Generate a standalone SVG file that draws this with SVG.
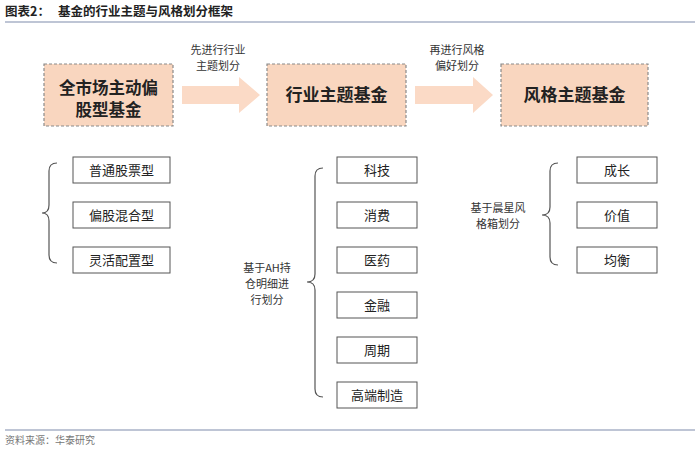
<svg xmlns="http://www.w3.org/2000/svg" width="700" height="450" viewBox="0 0 700 450">
<style>
text{font-family:"Noto Sans CJK SC","Noto Sans",sans-serif;fill:#222;}
.big{fill:#f9d6bf;stroke:#8a8a8a;stroke-width:1.2;stroke-dasharray:3,2;}
.bt{font-size:17px;font-weight:bold;text-anchor:middle;}
.sb{fill:#fff;stroke:#555;stroke-width:1;}
.st{font-size:13px;text-anchor:middle;}
.lbl{font-size:11px;text-anchor:middle;fill:#333;}
.arrow{fill:#fbdac6;}
.brace{fill:none;stroke:#555;stroke-width:1.2;}
</style>
<text x="5" y="16" style="font-size:12.5px;font-weight:bold">图表2：</text>
<text x="58" y="16" style="font-size:12.5px;font-weight:bold">基金的行业主题与风格划分框架</text>
<line x1="5" y1="22" x2="695" y2="22" stroke="#7f8cab" stroke-width="1.2"/>

<g id="n-all">
<rect class="big" x="44" y="64" width="129" height="62"/>
<text class="bt" x="108.5" y="94" style="font-size:16.5px">全市场主动偏</text>
<text class="bt" x="108.5" y="116" style="font-size:16.5px">股型基金</text>
</g>
<g id="n-industry">
<rect class="big" x="267" y="64" width="139" height="62"/>
<text class="bt" x="336.5" y="101">行业主题基金</text>
</g>
<g id="n-style">
<rect class="big" x="501" y="64" width="147" height="62"/>
<text class="bt" x="574.5" y="101">风格主题基金</text>
</g>

<g id="connectors">
<polygon class="arrow" points="182,86 239,86 239,77 260,95 239,113 239,104 182,104"/>
<polygon class="arrow" points="415,86 473,86 473,77 493,95 473,113 473,104 415,104"/>
<text class="lbl" x="218" y="54">先进行行业</text>
<text class="lbl" x="218" y="70">主题划分</text>
<text class="lbl" x="457" y="54">再进行风格</text>
<text class="lbl" x="457" y="70">偏好划分</text>
<path class="brace" d="M57,163 Q49,163 49,171 L49,205 Q49,213 42,213 Q49,213 49,221 L49,255 Q49,263 57,263"/>
<path class="brace" d="M323,168 Q315,168 315,176 L315,274 Q315,282 307,282 Q315,282 315,290 L315,389 Q315,397 323,397"/>
<path class="brace" d="M558,163 Q550,163 550,171 L550,207 Q550,215 542,215 Q550,215 550,223 L550,257 Q550,265 558,265"/>
<text class="lbl" x="267" y="272">基于AH持</text>
<text class="lbl" x="267" y="288">仓明细进</text>
<text class="lbl" x="267" y="304">行划分</text>
<text class="lbl" x="498" y="212">基于晨星风</text>
<text class="lbl" x="498" y="228">格箱划分</text>
</g>

<g id="n-l1"><rect class="sb" x="73" y="157" width="97" height="26"/><text class="st" x="121.5" y="175">普通股票型</text></g>
<g id="n-l2"><rect class="sb" x="73" y="202" width="97" height="26"/><text class="st" x="121.5" y="220">偏股混合型</text></g>
<g id="n-l3"><rect class="sb" x="73" y="247" width="97" height="26"/><text class="st" x="121.5" y="265">灵活配置型</text></g>

<g id="n-m1"><rect class="sb" x="337" y="157" width="80" height="26"/><text class="st" x="377" y="175">科技</text></g>
<g id="n-m2"><rect class="sb" x="337" y="202" width="80" height="26"/><text class="st" x="377" y="220">消费</text></g>
<g id="n-m3"><rect class="sb" x="337" y="247" width="80" height="26"/><text class="st" x="377" y="265">医药</text></g>
<g id="n-m4"><rect class="sb" x="337" y="292" width="80" height="26"/><text class="st" x="377" y="310">金融</text></g>
<g id="n-m5"><rect class="sb" x="337" y="337" width="80" height="26"/><text class="st" x="377" y="355">周期</text></g>
<g id="n-m6"><rect class="sb" x="337" y="382" width="80" height="26"/><text class="st" x="377" y="400">高端制造</text></g>

<g id="n-r1"><rect class="sb" x="577" y="157" width="80" height="26"/><text class="st" x="617" y="175">成长</text></g>
<g id="n-r2"><rect class="sb" x="577" y="202" width="80" height="26"/><text class="st" x="617" y="220">价值</text></g>
<g id="n-r3"><rect class="sb" x="577" y="247" width="80" height="26"/><text class="st" x="617" y="265">均衡</text></g>

<line x1="5" y1="430" x2="695" y2="430" stroke="#7f8cab" stroke-width="1.2"/>
<text x="5" y="444" style="font-size:10px;fill:#777">资料来源：华泰研究</text>
</svg>
